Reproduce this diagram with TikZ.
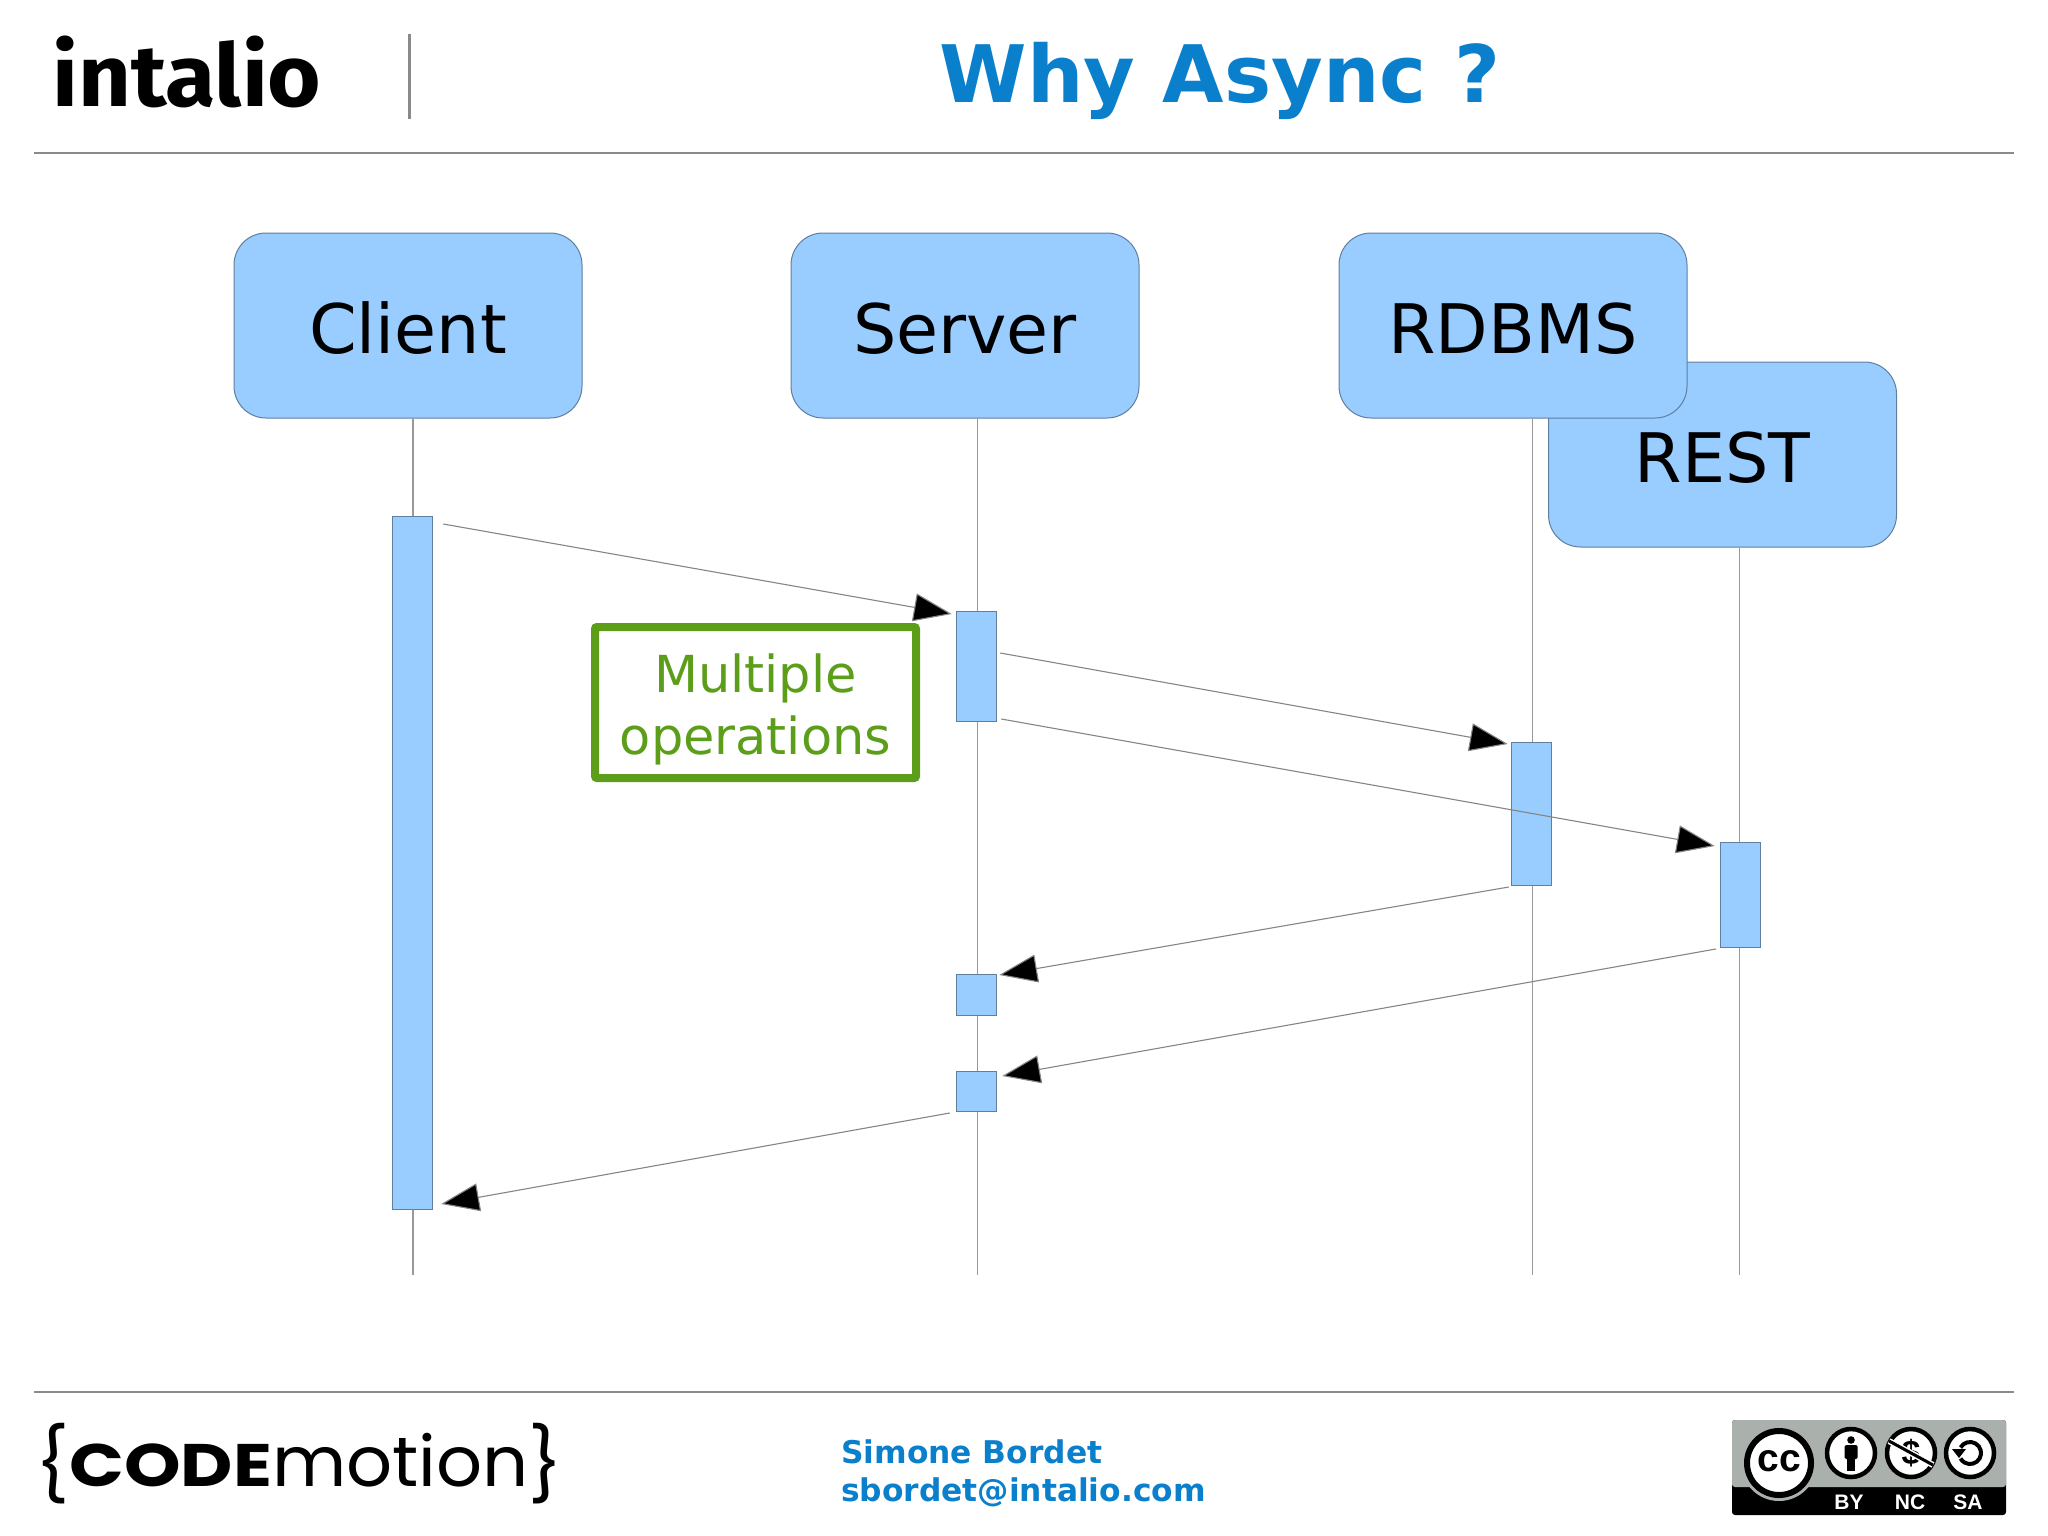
\documentclass[tikz,border=0pt]{standalone}
\usepackage{fontspec}
\setmainfont{DejaVu Sans}
\newfontfamily\lib{Liberation Sans}
\newfontfamily\logofont{Fira Sans}
\newfontfamily\codefont{Poppins}
\usetikzlibrary{arrows.meta,calc}
\definecolor{boxblue}{HTML}{99CCFF}
\definecolor{boxedge}{HTML}{5F7F9F}
\definecolor{rulegray}{HTML}{8A8A8A}
\definecolor{lifegray}{HTML}{999999}
\definecolor{msggray}{HTML}{858585}
\definecolor{titleblue}{HTML}{0A7FCC}
\definecolor{notegreen}{HTML}{5C9E1A}
\definecolor{badgegray}{HTML}{AAB0AC}
\tikzset{
  actor/.style={draw=boxedge,fill=boxblue,line width=1pt,rounded corners=32pt,minimum width=348pt,minimum height=185pt,inner sep=0pt,text height=55pt,text depth=0pt,font=\fontsize{68.3}{68}\selectfont},
  act/.style={draw=boxedge,fill=boxblue,line width=1pt,minimum width=40.5pt,inner sep=0pt},
  life/.style={draw=lifegray,line width=1.4pt},
  msg/.style={draw=msggray,line width=1.1pt,-{Triangle[length=38pt,width=28pt,fill=black]}},
  rule/.style={draw=rulegray,line width=2.2pt},
  ring/.style={draw=black,line width=4.5pt,fill=white},
  licence/.style={text=white,inner sep=0pt,font=\lib\bfseries\fontsize{21}{21}\selectfont}
}
\begin{document}
\begin{tikzpicture}[x=1pt,y=-1pt]
\useasboundingbox (0,0) rectangle (2048,1536);
% header and footer
\coordinate (hl) at (34,153); \coordinate (hr) at (2014,153);
\coordinate (fl) at (34,1392); \coordinate (fr) at (2014,1392);
\coordinate (st) at (409.5,34); \coordinate (sb) at (409.5,119);
\draw[rule] (hl) -- (hr);
\draw[rule] (fl) -- (fr);
\draw[rule] (st) -- (sb);
\node[anchor=base,inner sep=0pt,text=titleblue,font=\bfseries\fontsize{79.3}{79}\selectfont] (title) at (1220,103) {Why Async ?};
\node[anchor=base west,inner sep=0pt,xscale=1.055,font=\logofont\bfseries\fontsize{87}{87}\selectfont] (intalio) at (52,107) {intalio};
\node[anchor=base west,inner sep=0pt,align=left,text=titleblue,font=\bfseries\fontsize{31.3}{38}\selectfont] (author) at (841,1501) {Simone Bordet\\sbordet@intalio.com};
\node[anchor=base west,inner sep=0pt,xscale=1.03,font=\codefont\fontsize{60}{60}\selectfont] (codemotion) at (35,1486) {\raisebox{-4pt}{\fontsize{72}{72}\selectfont\{}\scalebox{1.165}[1]{\bfseries CODE}{\fontsize{70}{70}\selectfont motion}\raisebox{-4pt}{\fontsize{72}{72}\selectfont\}}};
% actors
\coordinate (ce) at (413,1275); \coordinate (se) at (977.5,1275); \coordinate (de) at (1532.5,1275); \coordinate (re) at (1739.5,1275);
\node[actor] (rest) at (1722.5,454.5) {REST};
\node[actor] (client) at (408,325.5) {Client};
\node[actor] (server) at (965,325.5) {Server};
\node[actor] (rdbms) at (1513,325.5) {RDBMS};
\draw[life] (ce |- client.south) -- (ce);
\draw[life] (se |- server.south) -- (se);
\draw[life] (de |- rdbms.south) -- (de);
\draw[life] (re |- rest.south) -- (re);
% activations
\node[act,minimum height=693pt] (c) at (412.5,863) {};
\node[act,minimum height=110pt] (s1) at (976.5,666.5) {};
\node[act,minimum height=143pt] (d) at (1531.5,814) {};
\node[act,minimum height=105pt] (r) at (1740.5,895) {};
\node[act,minimum height=41pt] (s2) at (976.5,995) {};
\node[act,minimum height=40pt] (s3) at (976.5,1091.5) {};
% messages
\draw[msg] ($(c.north east)+(10,8)$) -- ($(s1.north west)+(-4,3)$);
\draw[msg] ($(s1.north east)+(3,42)$) -- ($(d.north west)+(-3,2)$);
\draw[msg] ($(s1.south east)+(4,-3)$) -- ($(r.north west)+(-5,4)$);
\draw[msg] ($(d.south west)+(-2,1)$) -- ($(s2.north east)+(2,1)$);
\draw[msg] ($(r.south west)+(-4,1)$) -- ($(s3.north east)+(5,5)$);
\draw[msg] ($(s3.south west)+(-6,1)$) -- ($(c.south east)+(8,-6)$);
% note
\node[draw=notegreen,line width=8pt,rounded corners=2pt,minimum width=321pt,minimum height=151pt,inner sep=0pt,align=center,text=notegreen,font=\fontsize{51}{62}\selectfont] (note) at (755.5,702.5) {\rule{0pt}{52pt}Multiple\\operations};
% licence badge
\fill[black,rounded corners=3pt] (1732,1420) rectangle (2006,1515);
\fill[badgegray,rounded corners=3pt] (1732,1420) -- (2006,1420) -- (2006,1487) -- (1732,1487) -- cycle;
\begin{scope}
\clip (1732,1420) rectangle (2006,1515);
\fill[badgegray] (1779,1463) circle[radius=38];
\end{scope}
\draw[black,line width=6pt,fill=white] (1779,1463) circle[radius=32];
\node[inner sep=0pt,font=\lib\bfseries\fontsize{39}{39}\selectfont] (cc) at (1779,1461) {cc};
\draw[ring] (1851,1453) circle[radius=24];
\fill[black] (1851,1440) circle[radius=3.8];
\fill[black,rounded corners=1.5pt] (1844.5,1445) rectangle (1857.5,1459);
\fill[black] (1847,1455) rectangle (1855,1471);
\draw[ring] (1911,1453) circle[radius=24];
\node[inner sep=0pt,font=\lib\bfseries\fontsize{34}{34}\selectfont] (dollar) at (1911,1453) {\$};
\draw[white,line width=6pt] (1889,1441) -- (1933,1465);
\draw[black,line width=3pt] (1889,1441) -- (1933,1465);
\draw[ring] (1970,1453) circle[radius=24];
\draw[black,line width=4pt] (1960.5,1447.5) arc[start angle=-150,end angle=150,radius=11];
\fill[black] (1952,1449) -- (1966,1449) -- (1959,1458) -- cycle;
\node[licence,anchor=base] (by) at (1849,1509) {BY};
\node[licence,anchor=base] (nc) at (1910,1509) {NC};
\node[licence,anchor=base] (sa) at (1968,1509) {SA};
\end{tikzpicture}
\end{document}
